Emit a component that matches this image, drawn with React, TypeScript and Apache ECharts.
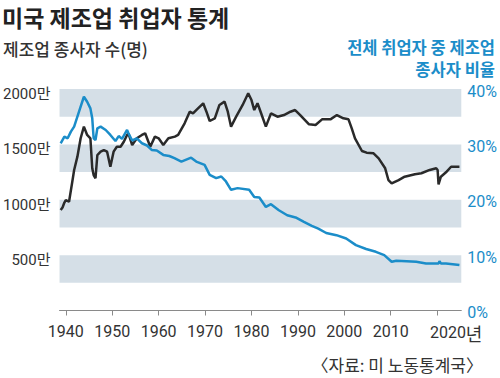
import React, { useEffect, useRef } from "react";
import * as echarts from "echarts";

const TITLE = "미국 제조업 취업자 통계";
const LEFT_TITLE = "제조업 종사자 수(명)";
const RIGHT_TITLE_1 = "전체 취업자 중 제조업";
const RIGHT_TITLE_2 = "종사자 비율";
const SOURCE = "〈자료: 미 노동통계국〉";

const xTicks = [1940, 1950, 1960, 1970, 1980, 1990, 2000, 2010, 2020];

// 제조업 종사자 수 (만 명)
const empYears = [
  1938.9, 1939.3, 1939.7, 1940.0, 1940.7, 1941.4, 1941.8, 1942.5, 1943.2, 1943.9,
  1944.6, 1945.3, 1945.7, 1946.0, 1946.4, 1946.8, 1947.5, 1948.2, 1948.9, 1949.6,
  1950.3, 1951.0, 1951.8, 1952.5, 1953.2, 1953.5, 1954.3, 1955.3, 1956.4, 1957.1,
  1958.2, 1959.2, 1960.0, 1961.0, 1962.1, 1963.5, 1964.2, 1965.6, 1966.7, 1967.4,
  1968.1, 1969.6, 1970.3, 1971.0, 1972.1, 1973.1, 1974.2, 1974.9, 1975.6, 1976.7,
  1978.1, 1979.3, 1980.0, 1980.6, 1981.3, 1982.0, 1983.1, 1984.2, 1985.6, 1987.0,
  1988.4, 1989.4, 1990.5, 1992.4, 1993.8, 1995.2, 1997.0, 1998.4, 1999.8, 2000.9,
  2001.6, 2002.3, 2003.8, 2004.8, 2006.3, 2007.4, 2008.8, 2009.5, 2010.2, 2011.7,
  2013.0, 2015.2, 2016.6, 2018.4, 2019.8, 2020.1, 2020.3, 2020.8, 2021.9, 2023.0,
  2024.8,
];
const empValues = [
  907, 930, 975, 997, 982, 1163, 1269, 1389, 1555, 1660,
  1585, 1555, 1284, 1223, 1194, 1404, 1434, 1449, 1434, 1299,
  1434, 1479, 1479, 1524, 1585, 1600, 1494, 1555, 1585, 1600,
  1479, 1570, 1555, 1494, 1555, 1570, 1585, 1690, 1795, 1780,
  1810, 1871, 1795, 1711, 1735, 1856, 1886, 1795, 1660, 1750,
  1856, 1961, 1900, 1810, 1871, 1790, 1660, 1780, 1750, 1765,
  1795, 1810, 1765, 1681, 1675, 1726, 1726, 1765, 1735, 1726,
  1645, 1555, 1440, 1425, 1419, 1374, 1284, 1178, 1148, 1178,
  1208, 1230, 1239, 1269, 1284, 1269, 1139, 1208, 1248, 1298,
  1298,
];

// 전체 취업자 중 제조업 종사자 비율 (%)
const shareYears = [
  1938.9, 1939.7, 1940.4, 1941.1, 1941.8, 1942.5, 1943.2, 1943.9, 1944.6, 1945.3,
  1945.7, 1946.0, 1946.4, 1946.8, 1947.5, 1948.6, 1949.6, 1950.7, 1951.4, 1952.1,
  1953.2, 1953.5, 1954.3, 1955.3, 1956.4, 1957.5, 1958.5, 1959.6, 1961.0, 1962.3,
  1963.4, 1964.9, 1967.0, 1968.1, 1969.9, 1971.0, 1972.4, 1973.5, 1974.5, 1975.6,
  1977.0, 1979.5, 1980.6, 1981.7, 1983.1, 1984.2, 1985.9, 1987.7, 1989.5, 1991.3,
  1993.0, 1994.4, 1996.1, 1998.3, 2000.4, 2002.5, 2004.7, 2006.8, 2008.6, 2010.2,
  2011.2, 2013.4, 2015.5, 2017.6, 2020.3, 2020.5, 2020.8, 2021.9, 2024.8,
];
const shareValues = [
  30.2, 31.4, 31.1, 32.3, 33.2, 35.0, 36.8, 38.6, 37.7, 36.5,
  34.7, 31.1, 30.8, 32.9, 33.2, 32.6, 31.7, 30.6, 31.5, 31.0,
  32.6, 32.0, 30.7, 31.1, 30.2, 29.8, 29.0, 28.9, 28.1, 27.9,
  27.5, 26.9, 27.6, 26.9, 26.3, 24.5, 23.9, 24.2, 23.3, 21.8,
  22.1, 21.8, 20.5, 20.4, 18.7, 19.2, 18.1, 17.2, 16.8, 16.0,
  15.3, 14.8, 14.0, 13.6, 13.0, 11.8, 11.1, 10.6, 10.0, 8.8,
  9.0, 8.9, 8.8, 8.5, 8.5, 8.9, 8.5, 8.5, 8.2,
];

const BLUE = "#1b8dc9";
const BLACK = "#2a2a2a";
const BAND = "#d5dfe7";
const NUM_FONT = "Roboto, 'Noto Sans CJK KR', sans-serif";
const KR_FONT = "'Noto Sans CJK KR', sans-serif";

export default function App() {
  const ref = useRef<HTMLDivElement>(null);
  useEffect(() => {
    document.body.style.margin = "0";
    if (!ref.current) return;
    const chart = echarts.init(ref.current, undefined, { renderer: "svg" });
    const empData = empYears.map((y, i) => [y, empValues[i]]);
    const shareData = shareYears.map((y, i) => [y, shareValues[i]]);
    chart.setOption({
      animation: false,
      backgroundColor: "#ffffff",
      grid: { left: 57, right: 38, top: 89, bottom: 67.5, containLabel: false },
      xAxis: {
        type: "value",
        min: 1938.65,
        max: 2025.2,
        splitLine: { show: false },
        axisLine: { show: true, lineStyle: { color: "#8a8a8a", width: 1 } },
        axisTick: { show: true, length: 5, lineStyle: { color: "#8a8a8a" }, customValues: xTicks },
        axisLabel: {
          customValues: xTicks,
          margin: 13,
          color: "#333333",
          fontFamily: NUM_FONT,
          fontSize: 16,
          formatter: (v: number) => (v === 2020 ? "{last|2020}{u|년}" : String(v)),
          rich: {
            last: { fontFamily: NUM_FONT, fontSize: 16, color: "#333333", padding: [0, 0, 0, 38] },
            u: { fontFamily: KR_FONT, fontSize: 18, color: "#333333" },
          },
        },
      },
      yAxis: [
        {
          type: "value",
          min: 0,
          max: 2000,
          interval: 250,
          axisLine: { show: false },
          axisTick: { show: false },
          splitLine: { show: false },
          splitArea: { show: true, areaStyle: { color: ["rgba(255,255,255,0)", BAND] } },
          axisLabel: {
            margin: 9,
            color: "#333333",
            fontFamily: NUM_FONT,
            fontSize: 15,
            verticalAlign: "top",
            lineHeight: 10,
            formatter: (v: number) => (v > 0 && v % 500 === 0 ? v + "만" : ""),
          },
        },
        {
          type: "value",
          min: 0,
          max: 40,
          interval: 10,
          position: "right",
          axisLine: { show: false },
          axisTick: { show: false },
          splitLine: { show: false },
          splitArea: { show: false },
          axisLabel: {
            margin: 6,
            color: BLUE,
            fontFamily: NUM_FONT,
            fontSize: 16,
            verticalAlign: "top",
            lineHeight: 4,
            formatter: (v: number) => v + "%",
          },
        },
      ],
      series: [
        {
          type: "line",
          name: "제조업 종사자 수",
          yAxisIndex: 0,
          data: empData,
          showSymbol: false,
          lineStyle: { color: BLACK, width: 2.5 },
          itemStyle: { color: BLACK },
        },
        {
          type: "line",
          name: "전체 취업자 중 제조업 종사자 비율",
          yAxisIndex: 1,
          data: shareData,
          showSymbol: false,
          lineStyle: { color: BLUE, width: 2.5 },
          itemStyle: { color: BLUE },
        },
      ],
      graphic: [
        {
          type: "text",
          x: 2,
          y: 16.5,
          style: {
            text: TITLE,
            font: `bold 23px ${KR_FONT}`,
            fill: "#222222",
            verticalAlign: "middle",
          },
        },
        {
          type: "text",
          x: 3,
          y: 48,
          style: {
            text: LEFT_TITLE,
            font: `500 17px ${KR_FONT}`,
            fill: "#333333",
            verticalAlign: "middle",
          },
        },
        {
          type: "text",
          x: 495,
          y: 46.5,
          style: {
            text: RIGHT_TITLE_1,
            font: `bold 16.5px ${KR_FONT}`,
            fill: BLUE,
            align: "right",
            verticalAlign: "middle",
          },
        },
        {
          type: "text",
          x: 495,
          y: 69,
          style: {
            text: RIGHT_TITLE_2,
            font: `bold 16.5px ${KR_FONT}`,
            fill: BLUE,
            align: "right",
            verticalAlign: "middle",
          },
        },
        {
          type: "text",
          x: 483,
          y: 364,
          style: {
            text: SOURCE,
            font: `17px ${KR_FONT}`,
            fill: "#333333",
            align: "right",
            verticalAlign: "middle",
          },
        },
      ],
    });
    return () => chart.dispose();
  }, []);
  return (
    <div
      ref={ref}
      style={{ width: 500, height: 378, position: "absolute", left: 0, top: 0 }}
    />
  );
}
